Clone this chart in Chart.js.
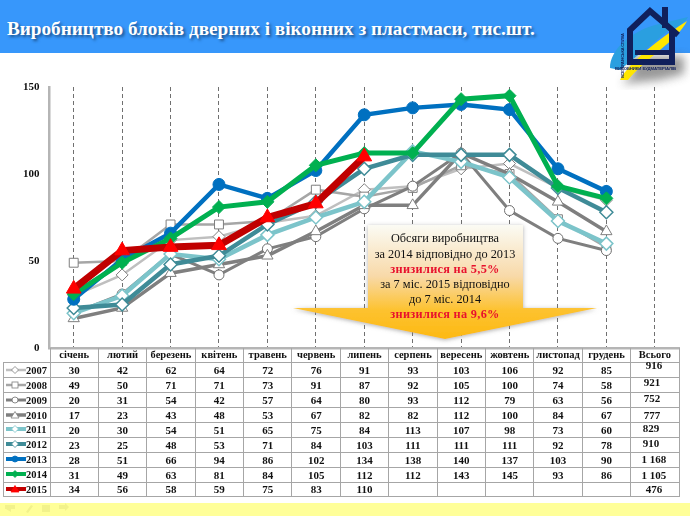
<!DOCTYPE html>
<html>
<head>
<meta charset="utf-8">
<script src="https://cdn.jsdelivr.net/npm/chart.js@4"></script>
<style>
  html, body { margin: 0; padding: 0; background: #fff; }
  #slide { position: relative; width: 690px; height: 516px; overflow: hidden; font-family: "Liberation Serif", serif; }
  #band { position: absolute; left: 0; top: 0; width: 690px; height: 53px; background: #3797fb; }
  #title { position: absolute; left: 7px; top: 18px; color: #fff; font-size: 19.2px; font-weight: bold; white-space: nowrap; text-shadow: 2px 2px 3px #1c4f86; }
  #strip { position: absolute; left: 0; top: 503px; width: 690px; height: 13px; background: #ffff99; }
  #stripIcons { position: absolute; left: 0; top: 503px; }
  #myChart { position: absolute; left: 0; top: 0; }
  #logo { position: absolute; left: 600px; top: 0; }
  #note { position: absolute; left: 285px; top: 215px; }
  #dataTable { position: absolute; left: 3px; top: 348px; border-collapse: collapse; table-layout: fixed; width: 675.7px; font-size: 11px; font-weight: bold; color: #111; }
  #dataTable tr { height: 14.9px; }
  #dataTable td, #dataTable th { border: 1.5px solid #a6a6a6; padding: 0; box-sizing: border-box; height: 14.9px; line-height: 12px; text-align: center; white-space: nowrap; overflow: visible; }
  #dataTable th { font-size: 10.5px; border-top: none; }
  #dataTable th.blank { border: none; border-bottom: 1.5px solid #a6a6a6; }
  #dataTable td.key { text-align: left; font-size: 10.5px; padding-left: 1px; }
  #dataTable svg { vertical-align: -2px; }
  #dataTable span { position: relative; }
</style>
</head>
<body>
<div id="slide">
  <div id="band"></div>
  <div id="title">Виробництво блоків дверних і віконних з пластмаси, тис.шт.</div>
  <div id="strip"></div>
  <svg id="stripIcons" width="80" height="13" viewBox="0 0 80 13">
    <g fill="#f2f28c">
      <polygon points="5,2 15,2 15,6 11,6 11,9 6,6 5,6"/>
      <polygon points="26,9 31,2 33,3 28,10"/>
      <rect x="42" y="2" width="8" height="7"/>
      <polygon points="59,2 65,2 65,0 69,4 65,8 65,6 59,6"/>
    </g>
  </svg>
  <canvas id="myChart" width="690" height="516"></canvas>
  <table id="dataTable"></table>

  <svg id="note" width="320" height="130" viewBox="0 0 320 130">
    <defs>
      <linearGradient id="noteFill" x1="0" y1="0" x2="0" y2="1">
        <stop offset="0" stop-color="#fbfbf4"/>
        <stop offset="0.45" stop-color="#f8d9a8"/>
        <stop offset="0.75" stop-color="#fdc22f"/>
        <stop offset="1" stop-color="#fdb913"/>
      </linearGradient>
      <filter id="noteShadow" x="-5%" y="-5%" width="110%" height="115%">
        <feDropShadow dx="0" dy="1" stdDeviation="2" flood-color="#777" flood-opacity="0.6"/>
      </filter>
    </defs>
    <polygon points="83,10 238,10 238,93 312,93 160,124 8,93 83,93" fill="url(#noteFill)" filter="url(#noteShadow)"/>
    <g font-family="Liberation Serif" font-size="12.3" text-anchor="middle" fill="#111">
      <text x="160" y="27">Обсяги виробництва</text>
      <text x="160" y="43">за 2014 відповідно до 2013</text>
      <text x="160" y="58" fill="#e8112d" font-weight="bold" letter-spacing="0.3">знизилися на 5,5%</text>
      <text x="160" y="73">за 7 міс. 2015 відповідно</text>
      <text x="160" y="88">до 7 міс. 2014</text>
      <text x="160" y="103" fill="#e8112d" font-weight="bold" letter-spacing="0.3">знизилися на 9,6%</text>
    </g>
  </svg>

  <svg id="logo" width="90" height="90" viewBox="0 0 90 90">
    <defs>
      <filter id="logoShadow" x="-30%" y="-30%" width="160%" height="160%">
        <feGaussianBlur stdDeviation="5"/>
      </filter>
    </defs>
    <path d="M22 84 L34 72 L28 56 H84 V74 L60 80 Z" fill="#555" opacity="0.6" filter="url(#logoShadow)"/>
    <path d="M10 68 C10 50 30 32 55 25 L88 17 C85 23 76 28 68 31 L32 60 L20 70 Z" fill="#2a9fe0"/>
    <path d="M20 80 C25 70 42 50 87 21 C82 31 72 40 60 50 C48 60 36 70 28 80 Z" fill="#ffe600"/>
    <path d="M30 65 V30 L50 11 L78 35" fill="none" stroke="#10205c" stroke-width="6"/>
    <path d="M65 7 V28" fill="none" stroke="#10205c" stroke-width="6"/>
    <path d="M30 62 H72 V29" fill="none" stroke="#10205c" stroke-width="6"/>
    <rect x="35" y="50" width="37" height="5" fill="#10205c"/>
    <text x="15" y="70" font-family="Liberation Sans" font-size="4.3" font-weight="bold" fill="#10205c" textLength="61">ВИРОБНИКИ БУДМАТЕРІАЛІВ</text>
    <text transform="translate(24 78) rotate(-90)" font-family="Liberation Sans" font-size="4" font-weight="bold" fill="#10205c" textLength="45">ВСЕУКРАЇНСЬКА СПІЛКА</text>
  </svg>
</div>

<script>
const months = ["січень", "лютий", "березень", "квітень", "травень", "червень", "липень", "серпень", "вересень", "жовтень", "листопад", "грудень", "Всього"];
const years = ["2007", "2008", "2009", "2010", "2011", "2012", "2013", "2014", "2015"];

const values2007 = [30, 42, 62, 64, 72, 76, 91, 93, 103, 106, 92, 85];
const values2008 = [49, 50, 71, 71, 73, 91, 87, 92, 105, 100, 74, 58];
const values2009 = [20, 31, 54, 42, 57, 64, 80, 93, 112, 79, 63, 56];
const values2010 = [17, 23, 43, 48, 53, 67, 82, 82, 112, 100, 84, 67];
const values2011 = [20, 30, 54, 51, 65, 75, 84, 113, 107, 98, 73, 60];
const values2012 = [23, 25, 48, 53, 71, 84, 103, 111, 111, 111, 92, 78];
const values2013 = [28, 51, 66, 94, 86, 102, 134, 138, 140, 137, 103, 90];
const values2014 = [31, 49, 63, 81, 84, 105, 112, 112, 143, 145, 93, 86];
const values2015 = [34, 56, 58, 59, 75, 83, 110];
const totals = ["916", "921", "752", "777", "829", "910", "1 168", "1 105", "476"];
const yTicks = [0, 50, 100, 150];

const allValues = [values2007, values2008, values2009, values2010, values2011, values2012, values2013, values2014, values2015];

// look of every series, same order as years
const looks = [
  { line: "#bfbfbf", width: 2.5, marker: "rectRot", size: 6, fill: "#fff", edge: "#7f7f7f", edgeWidth: 1 },
  { line: "#a6a6a6", width: 2.5, marker: "rect", size: 6.3, fill: "#fff", edge: "#7f7f7f", edgeWidth: 1 },
  { line: "#7f7f7f", width: 3, marker: "circle", size: 5, fill: "#fff", edge: "#6e6e6e", edgeWidth: 1 },
  { line: "#7f7f7f", width: 3.5, marker: "triangle", size: 6.5, fill: "#fff", edge: "#7f7f7f", edgeWidth: 1 },
  { line: "#7cc4ca", width: 4.5, marker: "rectRot", size: 6.5, fill: "#fff", edge: "#7cc4ca", edgeWidth: 1.5 },
  { line: "#3f8b97", width: 4.5, marker: "rectRot", size: 6.5, fill: "#fff", edge: "#3f8b97", edgeWidth: 1.5 },
  { line: "#0070c0", width: 4.5, marker: "circle", size: 6, fill: "#0070c0", edge: "#0070c0", edgeWidth: 1 },
  { line: "#00b050", width: 5, marker: "rectRot", size: 6.5, fill: "#00b050", edge: "#00b050", edgeWidth: 1 },
  { line: "#c00000", width: 7, marker: "triangle", size: 8.5, fill: "#ff0000", edge: "#ff0000", edgeWidth: 1 },
];

// the totals in the source table sit a little off their rows
const totalShiftY = [-5, -3.5, -2, 0, -1.5, -1.5, -1, 0, 0];
const totalShiftX = [-1, -3, -3, -3, -4, -4, -1, -1, -1];

function keySvg(look) {
  const cx = 10, cy = 6;
  let mark = "";
  const paint = `fill="${look.fill}" stroke="${look.edge}" stroke-width="0.8"`;
  if (look.marker === "rectRot") mark = `<polygon points="${cx},${cy - 3.5} ${cx + 3.5},${cy} ${cx},${cy + 3.5} ${cx - 3.5},${cy}" ${paint}/>`;
  if (look.marker === "rect") mark = `<rect x="${cx - 3}" y="${cy - 3}" width="6" height="6" ${paint}/>`;
  if (look.marker === "circle") mark = `<circle cx="${cx}" cy="${cy}" r="3" ${paint}/>`;
  if (look.marker === "triangle") mark = `<polygon points="${cx},${cy - 3.5} ${cx + 4},${cy + 3} ${cx - 4},${cy + 3}" ${paint}/>`;
  return `<svg width="21" height="12"><line x1="1" x2="21" y1="${cy}" y2="${cy}" stroke="${look.line}" stroke-width="${Math.min(look.width, 4)}"/>${mark}</svg>`;
}

function buildTable() {
  let html = `<colgroup><col style="width:46.5px">`;
  months.forEach(() => { html += `<col style="width:48.4px">`; });
  html += `</colgroup><tr><th class="blank"></th>`;
  months.forEach((m) => { html += `<th>${m}</th>`; });
  html += `</tr>`;
  years.forEach((year, i) => {
    html += `<tr><td class="key">${keySvg(looks[i])}${year}</td>`;
    for (let m = 0; m < 12; m++) {
      const v = allValues[i][m];
      html += `<td>${v === undefined ? "" : v}</td>`;
    }
    html += `<td><span style="top:${totalShiftY[i]}px;left:${totalShiftX[i]}px">${totals[i]}</span></td></tr>`;
  });
  document.getElementById("dataTable").innerHTML = html;
}
buildTable();

const datasets = years.map((year, i) => ({
  label: year,
  data: allValues[i],
  borderColor: looks[i].line,
  borderWidth: looks[i].width,
  backgroundColor: looks[i].fill,
  pointStyle: looks[i].marker,
  pointRadius: looks[i].size,
  pointBackgroundColor: looks[i].fill,
  pointBorderColor: looks[i].edge,
  pointBorderWidth: looks[i].edgeWidth,
  tension: 0,
  fill: false,
  order: years.length - i,
}));

new Chart(document.getElementById("myChart").getContext("2d"), {
  type: "line",
  data: { labels: months, datasets: datasets },
  options: {
    responsive: false,
    animation: false,
    layout: { padding: { left: 19.5, right: 11, top: 87, bottom: 168 } },
    plugins: { legend: { display: false }, tooltip: { enabled: false } },
    scales: {
      x: {
        offset: true,
        afterFit: (scale) => { scale.height = 0; },
        ticks: { display: false },
        border: { color: "#b5b5b5", width: 2.5, dash: [4, 3] },
        grid: { color: "#707070", lineWidth: 1, drawTicks: false },
      },
      y: {
        min: 0,
        max: 150,
        afterFit: (scale) => { scale.width = 30; },
        afterBuildTicks: (scale) => { scale.ticks = yTicks.map((v) => ({ value: v })); },
        border: { color: "#b5b5b5", width: 2.5 },
        grid: { display: false, drawTicks: false },
        ticks: {
          color: "#111",
          padding: 10,
          font: { family: "Liberation Serif", size: 11, weight: "bold" },
        },
      },
    },
    elements: { line: { borderCapStyle: "butt", borderJoinStyle: "miter" } },
  },
});
</script>
</body>
</html>
